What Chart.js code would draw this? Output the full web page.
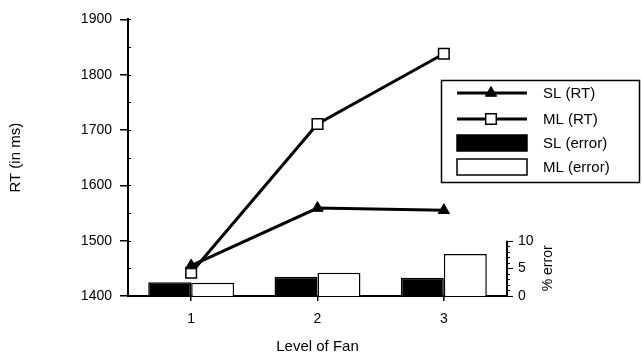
<!DOCTYPE html>
<html>
<head>
<meta charset="utf-8">
<script src="https://cdn.jsdelivr.net/npm/chart.js@4.4.1/dist/chart.umd.min.js"></script>
<style>
    html, body { margin: 0; padding: 0; background: #fff; }
    #wrap { width: 642px; height: 354px; }
</style>
</head>
<body>
<div id="wrap"><canvas id="chart" width="642" height="354"></canvas></div>
<script>
// Data
const categories = ['1', '2', '3'];
const slRT = [1455, 1559, 1555];
const mlRT = [1442, 1711, 1838];
const slError = [2.5, 3.5, 3.3];
const mlError = [2.4, 4.2, 7.6];
const rtTicks = [1400, 1500, 1600, 1700, 1800, 1900];
const errorTicks = [0, 5, 10];

const FONT = "'Liberation Sans', Arial, Helvetica, sans-serif";

// Minor ticks, the short % error axis and its title, and the boxed legend
const extras = {
    id: 'extras',
    afterDraw(chart) {
        const ctx = chart.ctx;
        const area = chart.chartArea;
        const y = chart.scales.y;
        const y2 = chart.scales.y2;

        ctx.save();
        ctx.strokeStyle = '#000';
        ctx.fillStyle = '#000';

        // small inner ticks on RT axis every 50 ms
        ctx.lineWidth = 1;
        for (let v = rtTicks[0]; v <= rtTicks[rtTicks.length - 1]; v += 50) {
            const py = Math.round(y.getPixelForValue(v)) + 0.5;
            ctx.beginPath();
            ctx.moveTo(area.left, py);
            ctx.lineTo(area.left + 3, py);
            ctx.stroke();
        }

        // % error axis: 0..10 only
        const x0 = area.right;
        const top = y2.getPixelForValue(errorTicks[errorTicks.length - 1]);
        const bot = y2.getPixelForValue(0);
        ctx.lineWidth = 2;
        ctx.beginPath();
        ctx.moveTo(x0, bot);
        ctx.lineTo(x0, top);
        ctx.stroke();
        ctx.lineWidth = 1;
        for (let v = 0; v <= 10; v++) {
            const py = Math.round(y2.getPixelForValue(v)) + 0.5;
            const len = errorTicks.includes(v) ? 6 : 3;
            ctx.beginPath();
            ctx.moveTo(x0, py);
            ctx.lineTo(x0 + len, py);
            ctx.stroke();
        }

        // "% error" title, reads bottom to top
        ctx.font = '14px ' + FONT;
        ctx.textAlign = 'center';
        ctx.textBaseline = 'middle';
        ctx.translate(548, (top + bot) / 2);
        ctx.rotate(-Math.PI / 2);
        ctx.fillText('% error', 0, 0);
        ctx.setTransform(1, 0, 0, 1, 0, 0);

        // Legend box
        const lx = 441, ly = 80, lw = 198, lh = 102;
        ctx.lineWidth = 1.5;
        ctx.strokeRect(lx + 0.5, ly + 0.5, lw, lh);

        const ds = chart.data.datasets;
        const rows = [
            { d: ds[0], y: 93, kind: 'line' },
            { d: ds[1], y: 119, kind: 'line' },
            { d: ds[2], y: 143, kind: 'bar' },
            { d: ds[3], y: 167, kind: 'bar' }
        ];
        ctx.font = '15px ' + FONT;
        ctx.textAlign = 'left';
        rows.forEach(r => {
            if (r.kind === 'line') {
                ctx.lineWidth = 3;
                ctx.strokeStyle = '#000';
                ctx.beginPath();
                ctx.moveTo(457, r.y);
                ctx.lineTo(527, r.y);
                ctx.stroke();
                ctx.fillStyle = r.d.pointBackgroundColor;
                ctx.strokeStyle = r.d.pointBorderColor;
                ctx.lineWidth = r.d.pointBorderWidth;
                Chart.helpers.drawPoint(ctx, {
                    pointStyle: r.d.pointStyle,
                    radius: r.d.pointRadius,
                    rotation: 0,
                    borderWidth: r.d.pointBorderWidth
                }, 491, r.y);
            } else {
                ctx.fillStyle = r.d.backgroundColor;
                ctx.strokeStyle = '#000';
                ctx.lineWidth = 1.5;
                ctx.fillRect(457, r.y - 8, 70, 16);
                ctx.strokeRect(457, r.y - 8, 70, 16);
            }
            ctx.fillStyle = '#000';
            ctx.fillText(r.d.label, 543, r.y + 1);
        });

        ctx.restore();
    }
};

const ctx = document.getElementById('chart').getContext('2d');
const chart = new Chart(ctx, {
    data: {
        labels: categories,
        datasets: [
            {
                type: 'line',
                label: 'SL (RT)',
                data: slRT,
                yAxisID: 'y',
                borderColor: '#000',
                borderWidth: 3,
                pointStyle: 'triangle',
                pointRadius: 6.5,
                pointBackgroundColor: '#000',
                pointBorderColor: '#000',
                pointBorderWidth: 1,
                tension: 0,
                order: 0
            },
            {
                type: 'line',
                label: 'ML (RT)',
                data: mlRT,
                yAxisID: 'y',
                borderColor: '#000',
                borderWidth: 3,
                pointStyle: 'rect',
                pointRadius: 7.5,
                pointBackgroundColor: '#fff',
                pointBorderColor: '#000',
                pointBorderWidth: 1.5,
                tension: 0,
                order: 0
            },
            {
                type: 'bar',
                label: 'SL (error)',
                data: slError,
                yAxisID: 'y2',
                backgroundColor: '#000',
                borderColor: '#000',
                borderWidth: 1.5,
                categoryPercentage: 0.68,
                barPercentage: 1,
                order: 1
            },
            {
                type: 'bar',
                label: 'ML (error)',
                data: mlError,
                yAxisID: 'y2',
                backgroundColor: '#fff',
                borderColor: '#000',
                borderWidth: 1.5,
                categoryPercentage: 0.68,
                barPercentage: 1,
                order: 1
            }
        ]
    },
    options: {
        responsive: false,
        animation: false,
        layout: { padding: { top: 17, left: 0, right: 0, bottom: 0 } },
        plugins: {
            legend: { display: false },
            tooltip: { enabled: false }
        },
        scales: {
            x: {
                type: 'category',
                offset: true,
                grid: { display: true, drawOnChartArea: false, offset: false, tickLength: 5, color: '#000', lineWidth: 1.5 },
                border: { display: true, color: '#000', width: 2 },
                ticks: { color: '#000', padding: 10, font: { family: FONT, size: 14 } },
                title: { display: true, text: 'Level of Fan', color: '#000', padding: { top: 0, bottom: 0 }, font: { family: FONT, size: 15, lineHeight: 1 } },
                afterFit: s => { s.height = 58; }
            },
            y: {
                type: 'linear',
                position: 'left',
                min: rtTicks[0],
                max: rtTicks[rtTicks.length - 1],
                afterBuildTicks: s => { s.ticks = rtTicks.map(v => ({ value: v })); },
                grid: { display: true, drawOnChartArea: false, tickLength: 8, color: '#000', lineWidth: 1.5 },
                border: { display: true, color: '#000', width: 2 },
                ticks: { color: '#000', padding: 8, font: { family: FONT, size: 14 }, callback: v => String(v) },
                title: { display: true, text: 'RT (in ms)', color: '#000', padding: { top: 8, bottom: 0 }, font: { family: FONT, size: 15, lineHeight: 1 } },
                afterFit: s => { s.width = 128; }
            },
            y2: {
                type: 'linear',
                position: 'right',
                min: 0,
                max: 50,
                afterBuildTicks: s => { s.ticks = errorTicks.map(v => ({ value: v })); },
                grid: { display: false, drawTicks: false },
                border: { display: false },
                ticks: { color: '#000', padding: 11, font: { family: FONT, size: 14 }, callback: v => String(v) },
                afterFit: s => { s.width = 135; }
            }
        }
    },
    plugins: [extras]
});
</script>
</body>
</html>
